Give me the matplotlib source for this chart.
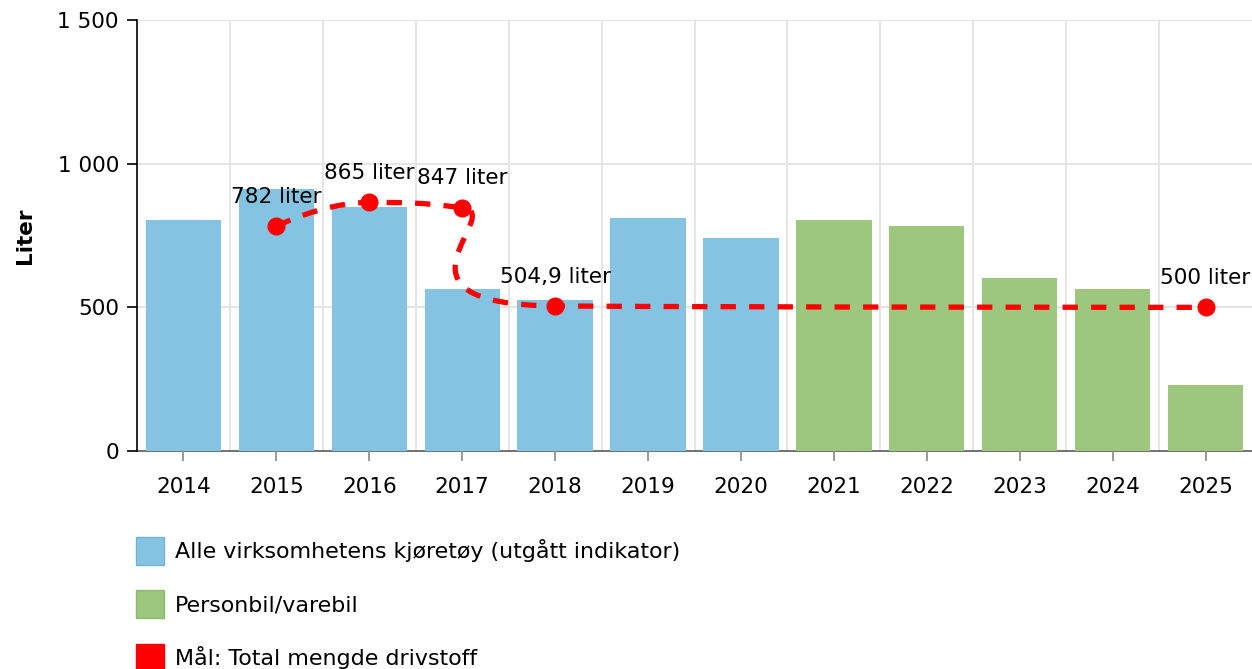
import numpy as np
import matplotlib
matplotlib.use('Agg')
import matplotlib.pyplot as plt
from matplotlib.path import Path
from matplotlib.patches import PathPatch, Patch
from matplotlib.ticker import FuncFormatter

# data
years = ['2014', '2015', '2016', '2017', '2018', '2019', '2020',
         '2021', '2022', '2023', '2024', '2025']
bar_values = [804, 912, 849, 564, 526, 811, 741, 804, 783, 602, 564, 230]
bar_series = ['alle'] * 7 + ['person'] * 5

goal_years = ['2015', '2016', '2017', '2018', '2025']
goal_values = [782, 865, 847, 504.9, 500]
goal_labels = ['782 liter', '865 liter', '847 liter', '504,9 liter', '500 liter']

series_names = {'alle': 'Alle virksomhetens kjøretøy (utgått indikator)',
                'person': 'Personbil/varebil',
                'goal': 'Mål: Total mengde drivstoff'}

blue = '#85c3e2'
green = '#9dc67f'
red = '#ff0000'
fs = 15.5

plt.rcParams['font.family'] = ['DejaVu Sans']

fig = plt.figure(figsize=(12.52, 6.69), dpi=100)
ax = fig.add_axes([137 / 1252, 1 - 451 / 669, 1 - 137 / 1252, (451 - 20) / 669])

x = np.arange(len(years))
colors = [blue if s == 'alle' else green for s in bar_series]
ax.bar(x, bar_values, width=0.81, color=colors, zorder=2)

ax.set_xlim(-0.5, len(years) - 0.5)
ax.set_ylim(0, 1500)
ax.set_yticks([0, 500, 1000, 1500])
ax.yaxis.set_major_formatter(FuncFormatter(lambda v, p: f'{int(v):,}'.replace(',', ' ')))
ax.set_xticks(x)
ax.set_xticklabels(years)

# grid: horizontal at ticks, vertical at category boundaries
for v in [500, 1000, 1500]:
    ax.axhline(v, color='#e3e3e3', lw=1.3, zorder=0)
for b in np.arange(0.5, len(years) - 0.5, 1):
    ax.axvline(b, color='#e3e3e3', lw=1.3, zorder=0)

for s in ['top', 'right']:
    ax.spines[s].set_visible(False)
ax.spines['left'].set_color('black')
ax.spines['left'].set_linewidth(1.2)
ax.spines['bottom'].set_color('#5a5a5a')
ax.spines['bottom'].set_linewidth(1.2)
ax.spines['bottom'].set_zorder(1)
ax.tick_params(axis='y', length=7, width=1.2, color='black', labelsize=fs, pad=6)
ax.tick_params(axis='x', length=7, width=1.2, color='#888888', labelsize=fs, pad=12)
ax.set_ylabel('Liter', fontsize=fs, fontweight='bold', labelpad=16)

# smooth goal line: cardinal spline in display space with clamped extremes
gx = np.array([years.index(g) for g in goal_years], dtype=float)
gy = np.array(goal_values, dtype=float)
pts = ax.transData.transform(np.column_stack([gx, gy]))
n = len(pts)
k = 0.25
left_c = pts.copy()
right_c = pts.copy()
for i in range(1, n - 1):
    t = k * (pts[i + 1] - pts[i - 1])
    lx, ly = pts[i] - t
    rx, ry = pts[i] + t
    py, lasty, nexty = pts[i][1], pts[i - 1][1], pts[i + 1][1]
    if ly > lasty and ly > py:
        ly = max(lasty, py); ry = 2 * py - ly
    elif ly < lasty and ly < py:
        ly = min(lasty, py); ry = 2 * py - ly
    if ry > nexty and ry > py:
        ry = max(nexty, py); ly = 2 * py - ry
    elif ry < nexty and ry < py:
        ry = min(nexty, py); ly = 2 * py - ry
    left_c[i] = [lx, ly]
    right_c[i] = [rx, ry]

verts = [pts[0]]
codes = [Path.MOVETO]
for i in range(n - 1):
    verts += [right_c[i], left_c[i + 1], pts[i + 1]]
    codes += [Path.CURVE4] * 3
verts = ax.transData.inverted().transform(np.array(verts))
line = PathPatch(Path(verts, codes), facecolor='none', edgecolor=red, lw=3.8,
                 linestyle=(0, (2.9, 2.5)), capstyle='butt', zorder=3)
ax.add_patch(line)
ax.plot(gx, gy, 'o', color=red, markersize=12, zorder=4, clip_on=False)

for xi, yi, lab in zip(gx, gy, goal_labels):
    ax.annotate(lab, (xi, yi), xytext=(0, 21), textcoords='offset points',
                ha='center', va='center', fontsize=fs, zorder=5)

handles = [Patch(facecolor=blue, edgecolor='#6fb5da', label=series_names['alle']),
           Patch(facecolor=green, edgecolor='#8bbb6b', label=series_names['person']),
           Patch(facecolor=red, edgecolor=red, label=series_names['goal'])]
fig.legend(handles=handles, loc='upper left', bbox_to_anchor=(127 / 1252, 1 - 528 / 669),
           frameon=False, fontsize=15.9, handlelength=1.27, handleheight=1.57,
           handletextpad=0.5, labelspacing=1.15, borderaxespad=0)

fig.savefig('out.png', dpi=100)
